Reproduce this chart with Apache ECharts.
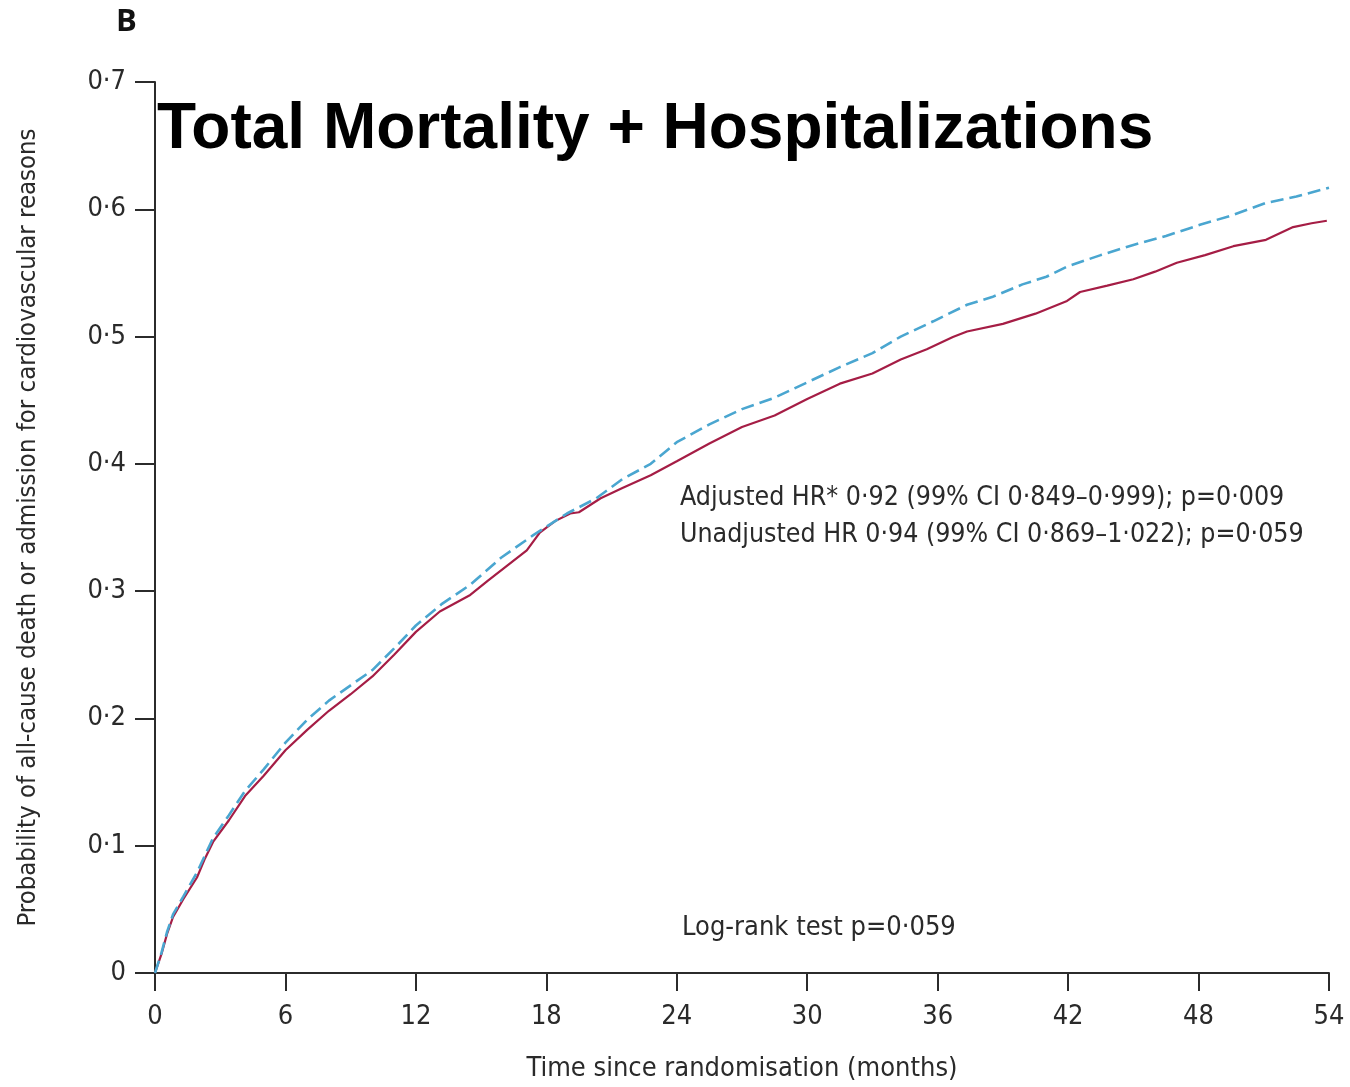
<!DOCTYPE html>
<html>
<head>
<meta charset="utf-8">
<script src="https://cdn.jsdelivr.net/npm/echarts@6/dist/echarts.min.js"></script>
<style>
  html, body { margin: 0; padding: 0; background: #fff; }
  #chart { width: 1350px; height: 1087px; }
</style>
</head>
<body>
<div id="chart"></div>
<script>
// Cumulative probability curves (months since randomisation -> probability)
const solidMonths = [0, 0.3, 0.55, 0.83, 1.3, 1.93, 2.3, 2.67, 3.4, 4.14, 5, 6, 7, 8, 9, 10, 11, 12, 13.1, 14.5, 15.3, 16.2, 17.1, 17.7, 18.4, 19.1, 19.5, 20.5, 21.5, 22.8, 24, 25.5, 27, 28.5, 30, 31.5, 33, 34.3, 35.5, 36.7, 37.35, 39, 40.5, 41.95, 42.55, 43.8, 45, 46, 47, 48.3, 49.6, 51.1, 52.35, 53.2, 53.9];
const solidProb = [0, 0.015, 0.0305, 0.044, 0.058, 0.075, 0.09, 0.103, 0.12, 0.139, 0.155, 0.175, 0.191, 0.206, 0.219, 0.233, 0.25, 0.268, 0.284, 0.297, 0.308, 0.320, 0.332, 0.346, 0.355, 0.361, 0.362, 0.373, 0.381, 0.391, 0.402, 0.416, 0.429, 0.438, 0.451, 0.463, 0.471, 0.482, 0.490, 0.4996, 0.504, 0.510, 0.518, 0.528, 0.535, 0.540, 0.545, 0.551, 0.558, 0.564, 0.571, 0.576, 0.586, 0.589, 0.591];

const dashedMonths = [0, 0.3, 0.55, 0.83, 1.3, 1.93, 2.67, 3.4, 4.14, 5, 6, 7, 8, 9, 10, 11, 12, 13.2, 14.5, 15.9, 17.4, 18.95, 20.3, 21.5, 22.8, 24, 25.5, 27, 28.5, 30, 31.5, 33, 34.3, 35.8, 37.35, 38.5, 39.9, 41, 41.95, 43.5, 45, 46.5, 48.1, 49.5, 51.1, 52.5, 54];
const dashedProb = [0, 0.016, 0.032, 0.046, 0.060, 0.079, 0.106, 0.124, 0.143, 0.16, 0.181, 0.199, 0.214, 0.226, 0.238, 0.255, 0.273, 0.290, 0.305, 0.326, 0.344, 0.361, 0.373, 0.388, 0.400, 0.417, 0.431, 0.443, 0.452, 0.464, 0.476, 0.487, 0.500, 0.512, 0.525, 0.531, 0.541, 0.547, 0.555, 0.564, 0.572, 0.579, 0.588, 0.595, 0.605, 0.610, 0.617];

// Axis ticks
const xTicks = [0, 6, 12, 18, 24, 30, 36, 42, 48, 54];
const yTicks = [0, 0.1, 0.2, 0.3, 0.4, 0.5, 0.6, 0.7];
const yTickLabels = ['0', '0·1', '0·2', '0·3', '0·4', '0·5', '0·6', '0·7'];

// Text
const panelLetter = 'B';
const heading = 'Total Mortality + Hospitalizations';
const statLines = [
  'Adjusted HR* 0·92 (99% CI 0·849–0·999); p=0·009',
  'Unadjusted HR 0·94 (99% CI 0·869–1·022); p=0·059'
];
const logRank = 'Log-rank test p=0·059';
const xTitle = 'Time since randomisation (months)';
const yTitle = 'Probability of all-cause death or admission for cardiovascular reasons';

const FONT = '"Liberation Sans Narrow", "DejaVu Sans Condensed", "Open Sans", sans-serif';
const AXIS_COLOR = '#2b2b2b';
const TEXT_COLOR = '#2a2a2a';

const zip = (xs, ys) => xs.map((x, i) => [x, ys[i]]);

const chart = echarts.init(document.getElementById('chart'), null, { renderer: 'canvas' });

chart.setOption({
  animation: false,
  backgroundColor: '#ffffff',
  grid: { left: 155, right: 21, top: 82, bottom: 111, containLabel: false },
  xAxis: {
    type: 'value',
    min: 0, max: 54, interval: 6,
    name: xTitle,
    nameLocation: 'middle',
    nameGap: 82,
    nameTextStyle: { fontFamily: FONT, fontSize: 27, color: TEXT_COLOR, verticalAlign: 'top' },
    axisLine: { show: true, onZero: false, lineStyle: { color: AXIS_COLOR, width: 2 } },
    axisTick: { show: true, length: 18, lineStyle: { color: AXIS_COLOR, width: 2 } },
    axisLabel: {
      margin: 30, fontFamily: FONT, fontSize: 27, color: TEXT_COLOR,
      formatter: v => (xTicks.indexOf(v) >= 0 ? String(v) : '')
    },
    splitLine: { show: false }
  },
  yAxis: {
    type: 'value',
    min: 0, max: 0.7, interval: 0.1,
    name: yTitle,
    nameLocation: 'middle',
    nameGap: 127,
    nameRotate: 90,
    nameTextStyle: { fontFamily: FONT, fontSize: 25.5, color: TEXT_COLOR, verticalAlign: 'middle' },
    axisLine: { show: true, onZero: false, lineStyle: { color: AXIS_COLOR, width: 2 } },
    axisTick: { show: true, length: 20, lineStyle: { color: AXIS_COLOR, width: 2 } },
    axisLabel: {
      margin: 29, fontFamily: FONT, fontSize: 27, color: TEXT_COLOR,
      formatter: v => {
        const i = yTicks.findIndex(t => Math.abs(t - v) < 1e-6);
        return i >= 0 ? yTickLabels[i] : '';
      }
    },
    splitLine: { show: false }
  },
  series: [
    {
      type: 'line',
      data: zip(solidMonths, solidProb),
      showSymbol: false,
      smooth: false,
      lineStyle: { color: '#a51d45', width: 2.2 },
      z: 2
    },
    {
      type: 'line',
      data: zip(dashedMonths, dashedProb),
      showSymbol: false,
      smooth: false,
      lineStyle: { color: '#4aa6d0', width: 2.6, type: [13, 6] },
      z: 3
    }
  ],
  graphic: [
    {
      type: 'text', left: 116, top: 7,
      style: { text: panelLetter, fontFamily: '"Open Sans", "DejaVu Sans", sans-serif', fontWeight: 'bold', fontSize: 31, fill: '#111' }
    },
    {
      type: 'text', left: 157, top: 98,
      style: { text: heading, fontFamily: '"Liberation Sans", Arial, sans-serif', fontWeight: 'bold', fontSize: 64, fill: '#000' }
    },
    {
      type: 'text', left: 680, top: 485,
      style: { text: statLines[0], fontFamily: FONT, fontSize: 26.5, fill: TEXT_COLOR }
    },
    {
      type: 'text', left: 680, top: 522,
      style: { text: statLines[1], fontFamily: FONT, fontSize: 26.5, fill: TEXT_COLOR }
    },
    {
      type: 'text', left: 682, top: 914,
      style: { text: logRank, fontFamily: FONT, fontSize: 27, fill: TEXT_COLOR }
    }
  ]
});
</script>
</body>
</html>
